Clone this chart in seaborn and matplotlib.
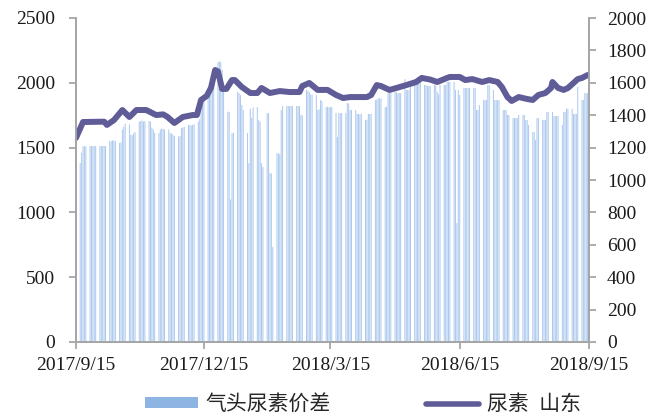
import numpy as np
import pandas as pd
import matplotlib
matplotlib.use("Agg")
import matplotlib.pyplot as plt
import matplotlib.dates as mdates
from matplotlib.patches import Patch
from matplotlib.lines import Line2D
import seaborn as sns

sns.set_style("ticks")
plt.rcParams['font.family'] = ['Liberation Serif', 'Noto Sans CJK SC', 'DejaVu Sans']
plt.rcParams['axes.unicode_minus'] = False

# 气头尿素价差, one value per business day (first = 2017/9/15, then Mon..Fri per row)
spread_first = [1380]
spread_weeks = [
    [1380, 1460, 1510, 1510, 1510],
    [1512, 1512, 1512, 1512, 1512],
    [1512, 1512, 1512, 1512, 1512],
    [1550, 1550, 1555, 1555, 1550],
    [1535, 1540, 1640, 1660, 1685],
    [1680, 1600, 1595, 1610, 1620],
    [1700, 1705, 1710, 1700, 1705],
    [1705, 1700, 1655, 1640, 1615],
    [1612, 1640, 1645, 1645, 1640],
    [1640, 1612, 1610, 1600, 1590],
    [1585, 1590, 1650, 1655, 1660],
    [1674, 1675, 1670, 1675, 1680],
    [1700, 1720, 1810, 1840, 1870],
    [1900, 1910, 1985, 2010, 2045],
    [2160, 2165, 2160, 2100, 1970],
    [1777, 1775, 1100, 1612, 1612],
    [1930, 1920, 1905, 1830, 1790],
    [1612, 1380, 1800, 1730, 1810],
    [1813, 1713, 1700, 1380, 1350],
    [1767, 1765, 1304, 1300, 733],
    [1458, 1455, 1450, 1790, 1821],
    [1821, 1821, 1821, 1821, 1821],
    [1821, 1821, 1820, 1752, 1750],
    [1944, 1940, 1930, 1910, 1906],
    [1906, 1790, 1795, 1867, 1860],
    [1813, 1815, 1810, 1813, 1813],
    [1767, 1582, 1767, 1765, 1767],
    [1767, 1844, 1840, 1790, 1790],
    [1790, 1760, 1760, 1755, 1760],
    [1713, 1715, 1760, 1760, 1760],
    [1867, 1870, 1880, 1880, 1880],
    [1813, 1815, 1920, 1925, 1930],
    [1930, 1925, 1920, 1920, 1920],
    [2028, 1944, 1944, 1945, 1983],
    [1983, 1985, 2006, 2006, 2006],
    [1983, 1983, 1975, 1975, 1975],
    [1983, 1980, 1930, 1910, 1983],
    [1983, 1983, 2006, 2006, 2006],
    [2006, 1944, 918, 1944, 1906],
    [1960, 1960, 1960, 1960, 1960],
    [1960, 1960, 1790, 1790, 1829],
    [1867, 1867, 1867, 1983, 1983],
    [1944, 1867, 1867, 1867, 1867],
    [1790, 1790, 1790, 1752, 1752],
    [1728, 1728, 1728, 1728, 1752],
    [1752, 1752, 1713, 1713, 1674],
    [1620, 1620, 1559, 1728, 1728],
    [1713, 1713, 1713, 1775, 1775],
    [1775, 1744, 1744, 1744, 1744],
    [1674, 1775, 1775, 1800, 1800],
    [1800, 1760, 1760, 1760, 1970],
    [1867, 1867, 1920, 1920, 1920],
]

# 尿素 山东
urea_dates = ['2017-09-15', '2017-09-20', '2017-10-05', '2017-10-07', '2017-10-12',
              '2017-10-18', '2017-10-23', '2017-10-28', '2017-11-04', '2017-11-11',
              '2017-11-16', '2017-11-19', '2017-11-24', '2017-11-30', '2017-12-07',
              '2017-12-10', '2017-12-13', '2017-12-17', '2017-12-20', '2017-12-23',
              '2017-12-25', '2017-12-28', '2017-12-31', '2018-01-04', '2018-01-06',
              '2018-01-11', '2018-01-17', '2018-01-22', '2018-01-25', '2018-01-31',
              '2018-02-07', '2018-02-14', '2018-02-21', '2018-02-23', '2018-02-28',
              '2018-03-06', '2018-03-13', '2018-03-19', '2018-03-24', '2018-03-29',
              '2018-04-10', '2018-04-13', '2018-04-17', '2018-04-20', '2018-04-26',
              '2018-05-01', '2018-05-08', '2018-05-15', '2018-05-19', '2018-05-25',
              '2018-05-30', '2018-06-06', '2018-06-08', '2018-06-15', '2018-06-19',
              '2018-06-24', '2018-07-01', '2018-07-06', '2018-07-12', '2018-07-15',
              '2018-07-19', '2018-07-22', '2018-07-27', '2018-08-02', '2018-08-06',
              '2018-08-10', '2018-08-15', '2018-08-19', '2018-08-20', '2018-08-24',
              '2018-08-28', '2018-08-31', '2018-09-04', '2018-09-07', '2018-09-10',
              '2018-09-14']
urea_vals = [1260, 1358, 1360, 1340, 1370,
             1432, 1389, 1432, 1432, 1401,
             1405, 1390, 1352, 1389, 1401,
             1401, 1494, 1519, 1568, 1679,
             1670, 1562, 1562, 1617, 1617,
             1574, 1537, 1537, 1568, 1537,
             1549, 1543, 1543, 1580, 1599,
             1556, 1556, 1525, 1506, 1512,
             1512, 1525, 1586, 1580, 1556,
             1568, 1586, 1605, 1630, 1620,
             1605, 1630, 1636, 1636, 1617,
             1623, 1605, 1617, 1605, 1574,
             1512, 1488, 1512, 1500, 1494,
             1525, 1537, 1568, 1605, 1568,
             1556, 1568, 1599, 1623, 1630,
             1648]

tick_dates = ['2017-09-15', '2017-12-15', '2018-03-15', '2018-06-15', '2018-09-15']
tick_labels = ['2017/9/15', '2017/12/15', '2018/3/15', '2018/6/15', '2018/9/15']

bar_color = '#abc8ee'
legend_bar_color = '#8db4e2'
line_color = '#5f5c98'
spine_color = '#a6a6a6'

spread = spread_first + [v for w in spread_weeks for v in w]
bar_dates = pd.bdate_range('2017-09-15', '2018-09-14')
bar_x = mdates.date2num(bar_dates.to_pydatetime())
line_x = mdates.date2num(pd.to_datetime(urea_dates).to_pydatetime())

fig = plt.figure(figsize=(6.62, 4.18), dpi=100)
ax = fig.add_axes([76 / 662, 1 - 342 / 418, 513 / 662, 324 / 418])

sns.barplot(x=bar_x, y=spread, native_scale=True, width=0.7, color=bar_color,
            saturation=1, linewidth=0, ax=ax)
# no pixel snapping, so the thin bars blend evenly
for p in ax.patches:
    p.set_snap(False)
ax.set_ylim(0, 2500)
ax.set_yticks(np.arange(0, 2501, 500))

ax2 = ax.twinx()
sns.lineplot(x=line_x, y=urea_vals, color=line_color, linewidth=4.3, ax=ax2)
ax2.set_ylim(0, 2000)
ax2.set_yticks(np.arange(0, 2001, 200))

xt = mdates.date2num(pd.to_datetime(tick_dates).to_pydatetime())
for a in (ax, ax2):
    a.set_xlim(xt[0], xt[-1])
    a.spines['top'].set_visible(False)
    for s in ('left', 'right', 'bottom'):
        a.spines[s].set_color(spine_color)
        a.spines[s].set_linewidth(1.3)
    a.set_xlabel('')
    a.set_ylabel('')
ax.set_xticks(xt)
ax.set_xticklabels(tick_labels)
ax.tick_params(axis='both', colors=spine_color, labelcolor='#1a1a1a', labelsize=14,
               length=5, width=1.3, direction='out')
ax.tick_params(axis='x', pad=6)
ax.tick_params(axis='y', pad=10)
ax2.tick_params(axis='y', colors=spine_color, labelcolor='#1a1a1a', labelsize=14,
                length=5, width=1.3, direction='out', pad=8)

handles = [Patch(facecolor=legend_bar_color, edgecolor='none'),
           Line2D([0], [0], color=line_color, linewidth=4.0)]
fig.legend(handles, ['气头尿素价差', '尿素  山东'], loc='center',
           bbox_to_anchor=(0.548, 0.031), ncol=2, frameon=False, fontsize=15,
           handlelength=2.55, handleheight=0.45, handletextpad=0.35, columnspacing=4.6)

fig.savefig('out.png', dpi=100)
